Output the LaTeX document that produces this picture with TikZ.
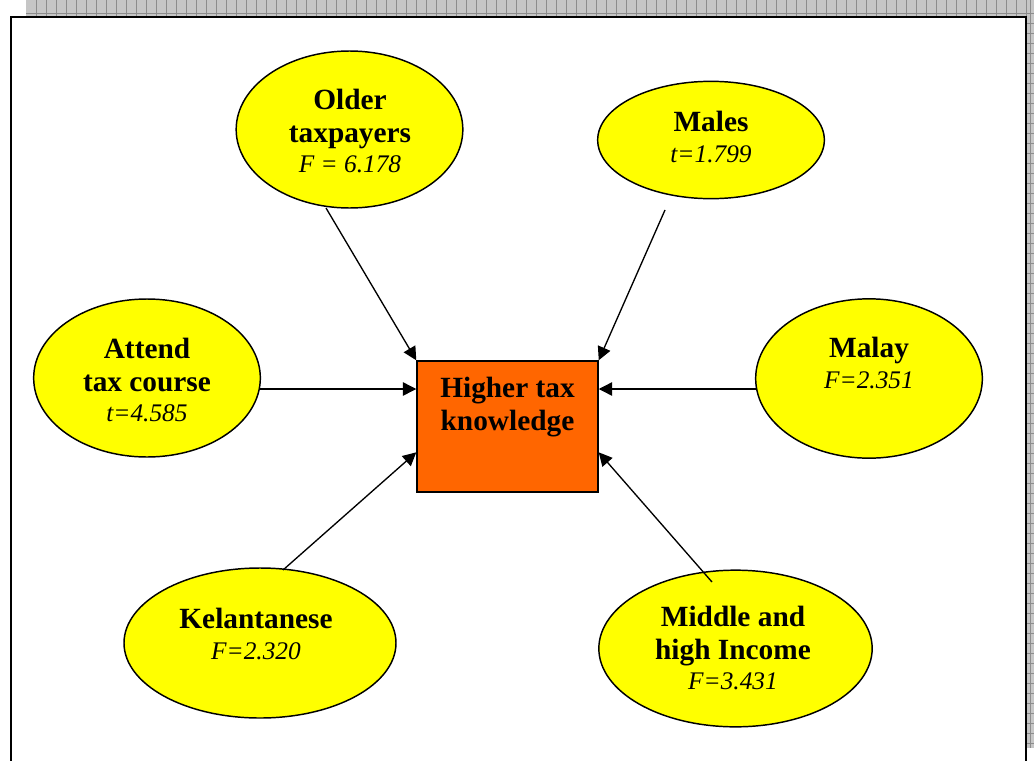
\documentclass[tikz,border=0pt]{standalone}
\usepackage{fontspec}
\setmainfont{Liberation Serif}
\usetikzlibrary{shapes.geometric,arrows.meta,calc}

\definecolor{bandfill}{RGB}{198,198,198}
\definecolor{bandline}{RGB}{140,140,140}
\definecolor{boxorange}{RGB}{255,102,0}
\definecolor{ellyellow}{RGB}{255,255,0}

% italic statistic line under each factor name
\newcommand{\statfont}{\mdseries\itshape\fontsize{19}{22}\selectfont}

\tikzset{
  ell/.style={ellipse, draw=black, line width=1.1pt, fill=ellyellow, inner sep=0pt},
  outcome/.style={rectangle, draw=black, line width=1.1pt, fill=boxorange, inner sep=0pt},
  lbl/.style={align=center, inner sep=0pt, font=\bfseries\fontsize{22}{24.5}\selectfont},
  arr/.style={line width=1pt, -{Triangle[length=10pt,width=10pt]}},
}

\begin{document}
\begin{tikzpicture}[x=0.75pt, y=-0.75pt]
  \useasboundingbox (0,0) rectangle (1034,760);

  % grey hatched page band (top and right)
  \fill[bandfill] (26,0) rectangle (1034,16);
  \fill[bandfill] (1027,0) rectangle (1034,748);
  \begin{scope}
    \clip (26,0) rectangle (1034,16) (1027,0) rectangle (1034,748);
    \foreach \gx in {36,46,...,1034} \draw[bandline, line width=0.6pt] (\gx,0) -- (\gx,16);
    \draw[bandline, line width=0.6pt] (26,13) -- (1034,13);
    \foreach \gy in {23,33,...,748} \draw[bandline, line width=0.6pt] (1027,\gy) -- (1034,\gy);
    \draw[bandline, line width=0.6pt] (1030,0) -- (1030,748);
  \end{scope}

  % page frame
  \draw[black, line width=1.6pt] (11,775) -- (11,17) -- (1026,17) -- (1026,775);

  % central outcome box
  \node[outcome, minimum width=135.75pt, minimum height=98.25pt] (hk) at (507.5,426.5) {};
  \node[lbl] (hkt) at (507.5,407) {Higher tax\\knowledge};

  % factor ellipses
  \node[ell, minimum width=170pt, minimum height=117.75pt] (older) at (349.5,129.5) {};
  \node[lbl] (oldert) at (350,131) {Older\\taxpayers\\[-1.5pt]{\statfont F = 6.178}};

  \node[ell, minimum width=170pt, minimum height=88pt] (males) at (711,140) {};
  \node[lbl] (malest) at (711,137) {Males\\[-1.5pt]{\statfont t=1.799}};

  \node[ell, minimum width=170pt, minimum height=118.5pt] (attend) at (147,378) {};
  \node[lbl] (attendt) at (147,380) {Attend\\tax course\\[-1.5pt]{\statfont t=4.585}};

  \node[ell, minimum width=170pt, minimum height=119.5pt] (malay) at (869,378.5) {};
  \node[lbl] (malayt) at (869,363) {Malay\\[-1.5pt]{\statfont F=2.351}};

  \node[ell, minimum width=204pt, minimum height=112.5pt] (kel) at (260,643) {};
  \node[lbl] (kelt) at (256,634) {Kelantanese\\[-1.5pt]{\statfont F=2.320}};

  \node[ell, minimum width=205pt, minimum height=117.5pt] (inc) at (735.5,648.5) {};
  \node[lbl] (inct) at (733,648) {Middle and\\high Income\\[-1.5pt]{\statfont F=3.431}};

  % free ends of the connectors
  \coordinate (oldS) at (326,208);
  \coordinate (malS) at (665,210);
  \coordinate (attS) at (260,389);
  \coordinate (mlyS) at (756,389);
  \coordinate (kelS) at (283,570);
  \coordinate (incS) at (712,582);

  % connectors into the outcome box
  \draw[arr] (oldS) -- (hk.north west);
  \draw[arr] (malS) -- (hk.north east);
  \draw[arr] (attS) -- (attS -| hk.west);
  \draw[arr] (mlyS) -- (mlyS -| hk.east);
  \draw[arr] (kelS) -- ($(hk.south west)!0.305!(hk.north west)$);
  \draw[arr] (incS) -- ($(hk.south east)!0.305!(hk.north east)$);
\end{tikzpicture}
\end{document}
